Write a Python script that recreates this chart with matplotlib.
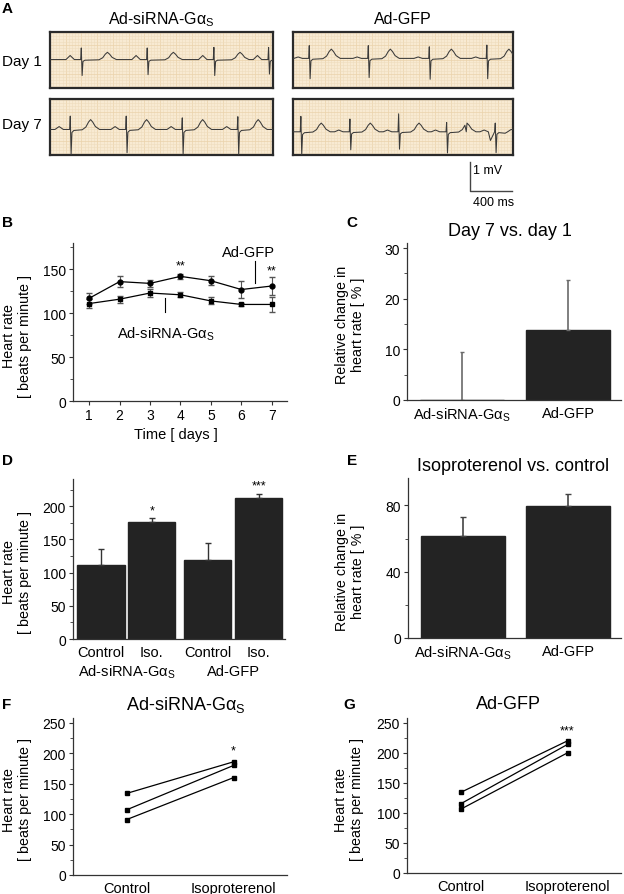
import numpy as np
import matplotlib
matplotlib.use('Agg')
import matplotlib.pyplot as plt
from matplotlib.ticker import MultipleLocator

plt.rcParams['font.family'] = ['Liberation Sans', 'DejaVu Sans']
plt.rcParams['mathtext.fontset'] = 'custom'
plt.rcParams['mathtext.rm'] = 'Liberation Sans'
plt.rcParams['mathtext.it'] = 'Liberation Sans:italic'
plt.rcParams['mathtext.bf'] = 'Liberation Sans:bold'
plt.rcParams['mathtext.default'] = 'regular'

GAS = 'Ad-siRNA-G$\\alpha_S$'
GFP = 'Ad-GFP'

# ---------------- data ----------------
# Panel A: ECG strips (beat times in ms, amplitudes in mV)
ecg_L1_beats = [302, 930, 1565, 2086]
ecg_L1_R = [0.40, 0.40, 0.42, 0.42]
ecg_L1_S = [0.55, 0.52, 0.55, 0.50]
ecg_R1_beats = [159, 721, 1302, 1850]
ecg_R1_R = [0.44, 0.44, 0.40, 0.46]
ecg_R1_S = [0.70, 0.66, 0.72, 0.70]
ecg_L7_beats = [197, 730, 1264, 1793]
ecg_L7_R = [0.46, 0.46, 0.40, 0.44]
ecg_L7_S = [0.86, 0.80, 0.84, 0.86]
ecg_R7_beats = [79, 546, 1010, 1467, 1930]
ecg_R7_R = [0.53, 0.44, 0.62, 0.32, 0.30]
ecg_R7_S = [0.79, 0.62, 0.60, 0.73, 0.72]
ecg_R7_wander_t = [1650, 1880, 2020, 2095]
ecg_R7_wander_v = [0.0, -0.30, -0.05, 0.08]
# beat template: time offsets (ms) and component weights
tpl_t = [-150, -130, -110, -90, -70, -10, -4, 4, 12, 30]
tpl_p = [0, 0.5, 1, 0.5, 0, 0, 0, 0, 0, 0]
tpl_r = [0, 0, 0, 0, 0, 0, 1, 0, 0, 0]
tpl_s = [0, 0, 0, 0, 0, 0, 0, -1, -0.12, -0.04]
twave_t = [-80, -45, -20, 0, 20, 45, 85]
twave_v = [-0.03, 0.25, 0.75, 1.0, 0.75, 0.3, 0.0]
ecg_params = {  # P amp, T amp, T delay, baseline
    'L1': (0.14, 0.25, 245, 0.0),
    'R1': (0.05, 0.32, 206, 0.04),
    'L7': (0.10, 0.34, 190, -0.10),
    'R7': (0.06, 0.30, 190, -0.18),
}
scale_ms = 400
scale_mv = 1

# Panel B
days = [1, 2, 3, 4, 5, 6, 7]
gfp_hr = [117, 136, 134, 142, 137, 127, 131]
gfp_err = [6, 6, 4, 3, 5, 10, 10]
sirna_hr = [111, 116, 123, 121, 114, 110, 110]
sirna_err = [5, 4, 5, 3, 4, 2, 9]

# Panel C
c_groups = [GAS, GFP]
c_vals = [0.0, 13.8]
c_err = [9.4, 9.8]

# Panel D
d_labels = ['Control', 'Iso.', 'Control', 'Iso.']
d_vals = [111, 176, 119, 212]
d_err = [24, 6, 25, 7]
d_pos = [0, 1, 2.1, 3.1]

# Panel E
e_groups = [GAS, GFP]
e_vals = [61.5, 79.6]
e_err = [11.7, 7.4]

# Panels F, G
fg_labels = ['Control', 'Isoproterenol']
f_ctrl = [134, 107, 91]
f_iso = [186, 180, 160]
g_ctrl = [134, 115, 106]
g_iso = [220, 214, 200]

# ---------------- figure ----------------
W, H = 624, 895
fig = plt.figure(figsize=(W / 100, H / 100), dpi=100)


def box(l, t, r, b):
    return [l / W, 1 - b / H, (r - l) / W, (b - t) / H]


def ftext(x, y, s, **kw):
    kw.setdefault('va', 'center')
    kw.setdefault('ha', 'center')
    fig.text(x / W, 1 - y / H, s, **kw)


AXC = '#333333'


def style(ax, xticks=True):
    for s in ['top', 'right']:
        ax.spines[s].set_visible(False)
    for s in ['left', 'bottom']:
        ax.spines[s].set_color(AXC)
        ax.spines[s].set_linewidth(0.9)
    ax.tick_params(which='major', direction='out', length=3, width=0.8,
                   color=AXC, labelsize=10, pad=2)
    ax.tick_params(which='minor', direction='out', length=2, width=0.6, color=AXC)
    if not xticks:
        ax.tick_params(axis='x', length=0, pad=4, labelsize=10.5)


# ---- Panel A ----
def ecg_trace(beats, R, S, key, extra_t=(), extra_v=()):
    P, T, tdel, base = ecg_params[key]
    ts, vs = [-300, 3000], [0.0, 0.0]
    for b, r, s in zip(beats, R, S):
        for t, wp, wr, ws in zip(tpl_t, tpl_p, tpl_r, tpl_s):
            ts.append(b + t)
            vs.append(P * wp + r * wr + s * ws)
        for t, wt in zip(twave_t, twave_v):
            ts.append(b + tdel + t)
            vs.append(T * wt)
    ts = list(ts) + list(extra_t)
    vs = list(vs) + list(extra_v)
    order = np.argsort(ts, kind='stable')
    return np.array(ts)[order], np.array(vs)[order] + base


strips = [
    ('L1', (50, 33, 273, 89), 2124, ecg_L1_beats, ecg_L1_R, ecg_L1_S, (), ()),
    ('L7', (50, 100, 273, 156), 2124, ecg_L7_beats, ecg_L7_R, ecg_L7_S, (), ()),
    ('R1', (293, 33, 513, 89), 2095, ecg_R1_beats, ecg_R1_R, ecg_R1_S, (), ()),
    ('R7', (293, 100, 513, 156), 2095, ecg_R7_beats, ecg_R7_R, ecg_R7_S,
     ecg_R7_wander_t, ecg_R7_wander_v),
]
for key, bb, tmax, beats, R, S, et, ev in strips:
    ax = fig.add_axes(box(*bb))
    ax.set_facecolor('#f8ead2')
    t, v = ecg_trace(beats, R, S, key, et, ev)
    ax.plot(t, v, color='#3a3a3a', lw=0.75, zorder=3)
    ax.set_xlim(0, tmax)
    ax.set_ylim(-0.98, 0.95)
    ax.xaxis.set_minor_locator(MultipleLocator(30))
    ax.xaxis.set_major_locator(MultipleLocator(150))
    ax.yaxis.set_minor_locator(MultipleLocator(0.1))
    ax.yaxis.set_major_locator(MultipleLocator(0.5))
    ax.grid(which='minor', color='#efdcbd', lw=0.4)
    ax.grid(which='major', color='#ead2ab', lw=0.5)
    ax.tick_params(which='both', length=0, labelbottom=False, labelleft=False)
    for s in ax.spines.values():
        s.set_linewidth(1.6)
        s.set_color('#2a2a2a')

# scale bar
axs = fig.add_axes(box(470, 163, 512, 192))
axs.plot([0, 0, scale_ms], [scale_mv, 0, 0], color='#444444', lw=1.0, clip_on=False)
axs.set_xlim(0, scale_ms)
axs.set_ylim(0, scale_mv)
axs.axis('off')
ftext(473, 171, f'{scale_mv} mV', ha='left', fontsize=9)
ftext(473, 203, f'{scale_ms} ms', ha='left', fontsize=9)

ftext(161, 20, GAS, fontsize=11.5)
ftext(403, 20, GFP, fontsize=11.5)
ftext(2, 62, 'Day 1', ha='left', fontsize=11)
ftext(2, 125, 'Day 7', ha='left', fontsize=11)

# ---- Panel B ----
ax = fig.add_axes(box(73, 244, 287, 402))
style(ax)
ax.errorbar(days, gfp_hr, yerr=gfp_err, color='black', lw=0.9, marker='o', ms=3.5,
            ecolor='#555555', elinewidth=0.8, capsize=2)
ax.errorbar(days, sirna_hr, yerr=sirna_err, color='black', lw=0.9, marker='s', ms=3.3,
            ecolor='#555555', elinewidth=0.8, capsize=2)
ax.set_xlim(0.47, 7.5)
ax.set_ylim(0, 180)
ax.set_xticks(days)
ax.set_yticks([0, 50, 100, 150])
ax.yaxis.set_minor_locator(MultipleLocator(25))
ax.text(4, 154, '**', ha='center', va='center', fontsize=9)
ax.text(7, 149, '**', ha='center', va='center', fontsize=9)
ax.text(6.25, 170, GFP, ha='center', va='center', fontsize=10.5)
ax.plot([6.45, 6.45], [135, 160], color='black', lw=0.8)
ax.text(3.5, 77, GAS, ha='center', va='center', fontsize=10.5)
ax.plot([3.5, 3.5], [101, 117], color='black', lw=0.8)
ftext(17, 336, 'Heart rate\n[ beats per minute ]', rotation=90, fontsize=10.3,
      linespacing=1.15)
ftext(176, 435, 'Time [ days ]', fontsize=10.5)

# ---- Panel C ----
ax = fig.add_axes(box(407, 244, 621, 401))
style(ax, xticks=False)
ax.bar([0, 1], c_vals, width=0.8, color='#232323', edgecolor='#232323')
ax.errorbar([0, 1], c_vals, yerr=[[0, 0], c_err], fmt='none', ecolor='#6a6a6a',
            elinewidth=1.2, capsize=1.5)
ax.set_xlim(-0.52, 1.5)
ax.set_ylim(0, 31)
ax.set_xticks([0, 1])
ax.set_xticklabels(c_groups)
ax.set_yticks([0, 10, 20, 30])
ax.yaxis.set_minor_locator(MultipleLocator(5))
ftext(350, 325, 'Relative change in\nheart rate [ % ]', rotation=90, fontsize=10.3,
      linespacing=1.15)
ftext(510, 231, 'Day 7 vs. day 1', fontsize=13)

# ---- Panel D ----
ax = fig.add_axes(box(73, 480, 285, 640))
style(ax, xticks=False)
ax.bar(d_pos, d_vals, width=0.93, color='#232323', edgecolor='#232323')
ax.errorbar(d_pos, d_vals, yerr=[[0] * 4, d_err], fmt='none', ecolor='#333333',
            elinewidth=1.0, capsize=2.2)
ax.set_xlim(-0.55, 3.62)
ax.set_ylim(0, 241)
ax.set_xticks(d_pos)
ax.set_xticklabels(d_labels)
ax.set_yticks([0, 50, 100, 150, 200])
ax.yaxis.set_minor_locator(MultipleLocator(25))
ax.text(d_pos[1], 193, '*', ha='center', va='center', fontsize=9)
ax.text(d_pos[3], 232, '***', ha='center', va='center', fontsize=9)
ftext(127, 672, GAS, fontsize=10.5)
ftext(233, 672, GFP, fontsize=10.5)
ftext(17, 572, 'Heart rate\n[ beats per minute ]', rotation=90, fontsize=10.3,
      linespacing=1.15)

# ---- Panel E ----
ax = fig.add_axes(box(408, 479, 621, 639))
style(ax, xticks=False)
ax.bar([0, 1], e_vals, width=0.8, color='#232323', edgecolor='#232323')
ax.errorbar([0, 1], e_vals, yerr=[[0, 0], e_err], fmt='none', ecolor='#444444',
            elinewidth=1.2, capsize=2)
ax.set_xlim(-0.52, 1.5)
ax.set_ylim(0, 96.5)
ax.set_xticks([0, 1])
ax.set_xticklabels(e_groups)
ax.set_yticks([0, 40, 80])
ax.yaxis.set_minor_locator(MultipleLocator(20))
ftext(350, 572, 'Relative change in\nheart rate [ % ]', rotation=90, fontsize=10.3,
      linespacing=1.15)
ftext(513, 467, 'Isoproterenol vs. control', fontsize=13)

# ---- Panels F, G ----
for bb, ctrl, iso, title, tx, star, sy, lx in [
        ((73, 719, 287, 876), f_ctrl, f_iso, GAS, 186, '*', 204, 17),
        ((407, 719, 621, 874), g_ctrl, g_iso, GFP, 508, '***', 237, 349)]:
    ax = fig.add_axes(box(*bb))
    style(ax, xticks=False)
    for c, i in zip(ctrl, iso):
        ax.plot([0, 1], [c, i], color='black', lw=0.9, marker='s', ms=3.3)
    ax.set_xlim(-0.5, 1.5)
    ax.set_ylim(0, 258)
    ax.set_xticks([0, 1])
    ax.set_xticklabels(fg_labels)
    ax.set_yticks([0, 50, 100, 150, 200, 250])
    ax.yaxis.set_minor_locator(MultipleLocator(25))
    ax.text(1, sy, star, ha='center', va='center', fontsize=9)
    ftext(tx, 705, title, fontsize=13)
    ftext(lx, 800, 'Heart rate\n[ beats per minute ]', rotation=90, fontsize=10.3,
          linespacing=1.15)

# panel letters
for lab, x, y in [('A', 2, 9), ('B', 2, 223), ('C', 346, 223), ('D', 2, 461),
                  ('E', 347, 461), ('F', 2, 705), ('G', 343, 705)]:
    ftext(x, y, lab, ha='left', fontsize=11, fontweight='bold')

fig.savefig('out.png', dpi=100)
